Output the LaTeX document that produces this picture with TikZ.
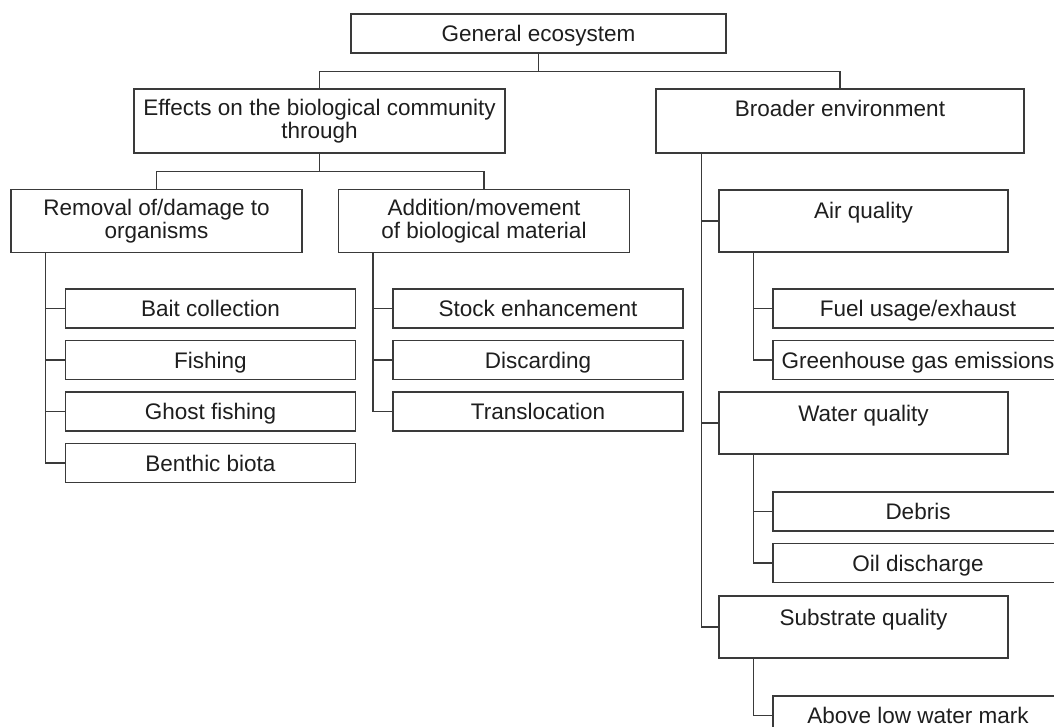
\documentclass[tikz,border=0pt]{standalone}
\usepackage{fontspec}
\setmainfont{Liberation Sans}
\definecolor{linec}{HTML}{3A3A3A}
\definecolor{textc}{HTML}{1E1E1E}
\newcommand{\fsz}{\fontsize{11.25}{11.8}\selectfont}
\begin{document}
\begin{tikzpicture}[x=0.5pt,y=-0.5pt,
  box/.style={draw=linec, line width=0.65pt, inner sep=0pt, align=center, text=textc, font=\fsz},
  leaf/.style={box, minimum width=145pt, minimum height=19.5pt, text height=10pt, text depth=2pt},
  mid/.style={box, minimum width=145.5pt, minimum height=31.5pt},
  topt/.style={box, minimum width=144.5pt, text height=14.5pt, text depth=16.5pt},
  conn/.style={draw=linec, line width=0.65pt}]
\fill[white] (0,0) rectangle (1054,727);
\useasboundingbox (0,0) rectangle (1054,727);
\clip (0,0) rectangle (1054,727);
% level 0
\node[box, minimum width=187.5pt, minimum height=19.5pt, text height=10pt, text depth=2pt] (gen) at (538.5,33.5) {General ecosystem};
% level 1
\node[box, minimum width=185.5pt, minimum height=32pt] (eff) at (319.5,121) {Effects on the biological community\\through};
\node[box, minimum width=184pt, text height=13.75pt, text depth=18.25pt] (broad) at (840,121) {Broader environment};
% level 2 left
\node[mid] (removal) at (156.5,221) {Removal of/damage to\\organisms};
\node[mid] (addition) at (484,221) {Addition/movement\\of biological material};
% leaves left
\node[leaf] (bait) at (210.5,308.5) {Bait collection};
\node[leaf] (fishing) at (210.5,360) {Fishing};
\node[leaf] (ghost) at (210.5,411.5) {Ghost fishing};
\node[leaf] (benthic) at (210.5,463) {Benthic biota};
\node[leaf] (stock) at (538,308.5) {Stock enhancement};
\node[leaf] (discard) at (538,360) {Discarding};
\node[leaf] (transloc) at (538,411.5) {Translocation};
% right branch
\node[topt] (air) at (863.5,221) {Air quality};
\node[leaf] (fuel) at (918,308.5) {Fuel usage/exhaust};
\node[leaf] (green) at (918,360) {Greenhouse gas emissions};
\node[topt] (water) at (863.5,423) {Water quality};
\node[leaf] (debris) at (918,511.5) {Debris};
\node[leaf] (oil) at (918,563) {Oil discharge};
\node[topt] (substrate) at (863.5,627) {Substrate quality};
\node[leaf] (above) at (918,715.5) {Above low water mark};
% connectors
\draw[conn] (gen.south) -- ++(0,18) -| (eff.north);
\draw[conn] (gen.south) -- ++(0,18) -| (broad.north);
\draw[conn] (eff.south) -- ++(0,18) -| (removal.north);
\draw[conn] (eff.south) -- ++(0,18) -| (addition.north);
\coordinate (rs) at ([xshift=17.5pt]removal.south west);
\foreach \n in {bait,fishing,ghost,benthic} \draw[conn] (rs) |- (\n.west);
\coordinate (as) at ([xshift=17.5pt]addition.south west);
\foreach \n in {stock,discard,transloc} \draw[conn] (as) |- (\n.west);
\coordinate (bs) at ([xshift=23pt]broad.south west);
\foreach \n in {air,water,substrate} \draw[conn] (bs) |- (\n.west);
\coordinate (ais) at ([xshift=17.5pt]air.south west);
\foreach \n in {fuel,green} \draw[conn] (ais) |- (\n.west);
\coordinate (ws) at ([xshift=17.5pt]water.south west);
\foreach \n in {debris,oil} \draw[conn] (ws) |- (\n.west);
\coordinate (ss) at ([xshift=17.5pt]substrate.south west);
\draw[conn] (ss) |- (above.west);
\end{tikzpicture}
\end{document}
